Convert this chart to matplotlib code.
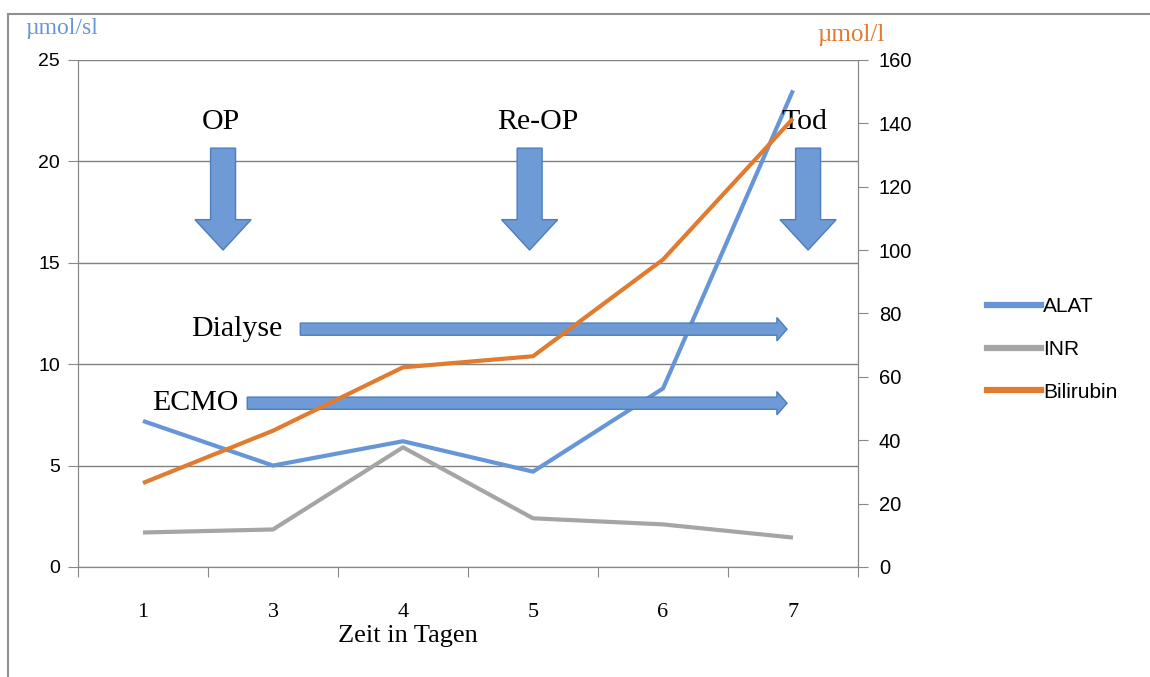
import matplotlib.pyplot as plt
from matplotlib.patches import FancyArrow
from matplotlib.lines import Line2D

# data
days = ["1", "3", "4", "5", "6", "7"]
alat = [7.2, 5.0, 6.2, 4.7, 8.8, 23.5]
inr = [1.7, 1.85, 5.9, 2.4, 2.1, 1.45]
bilirubin = [26.5, 43, 63, 66.5, 97, 141.5]

BLUE = "#6796D8"
GRAY = "#A5A5A5"
ORANGE = "#E07B30"
ARROW_FILL = "#6E9BD6"
ARROW_EDGE = "#4C7EBD"
SERIF = "Liberation Serif"
SANS = "Liberation Sans"

fig = plt.figure(figsize=(11.5, 6.77), dpi=100)
ax = fig.add_axes([0.0678, 0.1625, 0.6783, 0.749])
ax2 = ax.twinx()

x = list(range(len(days)))
l1, = ax.plot(x, alat, color=BLUE, lw=3, solid_capstyle="butt", zorder=3)
l2, = ax.plot(x, inr, color=GRAY, lw=3, solid_capstyle="butt", zorder=3)
l3, = ax2.plot(x, bilirubin, color=ORANGE, lw=3, solid_capstyle="butt", zorder=3)

ax.set_xlim(-0.5, len(days) - 0.5)
ax.set_ylim(0, 25)
ax2.set_ylim(0, 160)
ax.set_yticks(range(0, 26, 5))
ax2.set_yticks(range(0, 161, 20))

# category ticks at boundaries, labels in the middle
ax.set_xticks([i - 0.5 for i in range(len(days) + 1)])
ax.set_xticklabels([])
ax.set_xticks(x, minor=True)
ax.set_xticklabels(days, minor=True, fontfamily=SERIF, fontsize=16)
ax.tick_params(axis="x", which="minor", length=0, pad=26)
ax.tick_params(axis="x", which="major", length=7, color="#888888")

ax.grid(axis="y", color="#808080", lw=1)
ax.set_axisbelow(True)
for a in (ax, ax2):
    a.spines["top"].set_visible(False)
    for s in ("left", "right", "bottom"):
        a.spines[s].set_color("#888888")
ax.tick_params(axis="y", length=7, color="#888888", labelsize=14, pad=6)
ax2.tick_params(axis="y", length=7, color="#888888", labelsize=14.5, pad=8)
for lab in ax.get_yticklabels() + ax2.get_yticklabels():
    lab.set_fontfamily(SANS)

ax.set_xlabel("Zeit in Tagen", fontfamily=SERIF, fontsize=19, labelpad=2, x=0.423)

# unit labels
fig.text(0.022, 0.958, "µmol/sl", color=BLUE, fontfamily=SERIF, fontsize=17,
         va="center", ha="left")
fig.text(0.711, 0.948, "µmol/l", color=ORANGE, fontfamily=SERIF, fontsize=18,
         va="center", ha="left")

# event arrows (OP, Re-OP, Tod)
for label, ax_x, tx in [("OP", 0.186, 0.183), ("Re-OP", 0.579, 0.59), ("Tod", 0.936, 0.931)]:
    ax.add_patch(FancyArrow(ax_x, 0.826, 0, -0.201, width=0.032, head_width=0.072,
                            head_length=0.06, length_includes_head=True,
                            transform=ax.transAxes, facecolor=ARROW_FILL,
                            edgecolor=ARROW_EDGE, lw=1, zorder=4))
    ax.text(tx, 0.878, label, transform=ax.transAxes, fontfamily=SERIF,
            fontsize=21.5, ha="center", va="center", zorder=5)

# therapy arrows (Dialyse, ECMO)
for label, y, x0, tx in [("Dialyse", 0.469, 0.285, 0.204), ("ECMO", 0.323, 0.217, 0.151)]:
    ax.add_patch(FancyArrow(x0, y, 0.909 - x0, 0, width=0.024, head_width=0.046,
                            head_length=0.013, length_includes_head=True,
                            transform=ax.transAxes, facecolor=ARROW_FILL,
                            edgecolor=ARROW_EDGE, lw=1, zorder=4))
    ax.text(tx, y, label, transform=ax.transAxes, fontfamily=SERIF,
            fontsize=21.5, ha="center", va="center", zorder=5)

# legend
handles = [Line2D([], [], color=c, lw=4.5) for c in (BLUE, GRAY, ORANGE)]
fig.legend(handles, ["ALAT", "INR", "Bilirubin"], loc="center left",
           bbox_to_anchor=(0.842, 0.484), frameon=False,
           prop={"family": SANS, "size": 15}, handlelength=2.6,
           handletextpad=0.08, labelspacing=1.15)

# outer chart border
fig.add_artist(Line2D([0.007, 0.007], [0.0, 0.979], color="#909090", lw=1.5,
                      transform=fig.transFigure))
fig.add_artist(Line2D([0.007, 1.0], [0.979, 0.979], color="#909090", lw=1.5,
                      transform=fig.transFigure))

fig.savefig("out.png", dpi=100)
